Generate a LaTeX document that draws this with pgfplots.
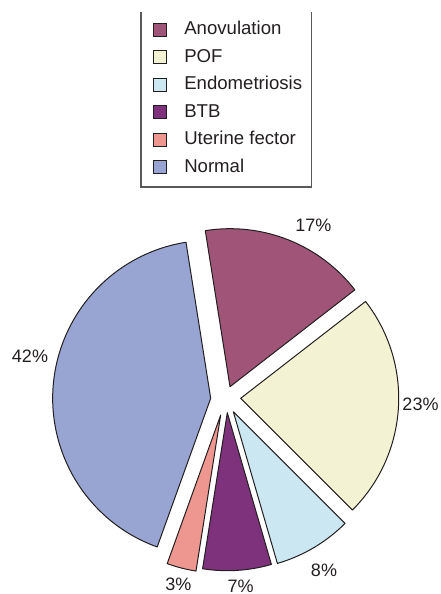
\documentclass[border=0pt]{standalone}
\usepackage{pgfplots}
\usepackage{pgfplotstable}
\pgfplotsset{compat=1.18}
\usepackage{fontspec}
\setmainfont{Liberation Sans}
\definecolor{cAno}{HTML}{A05578}
\definecolor{cPOF}{HTML}{F3F2D3}
\definecolor{cEndo}{HTML}{CBE7F1}
\definecolor{cBTB}{HTML}{7D327B}
\definecolor{cUte}{HTML}{EE9690}
\definecolor{cNor}{HTML}{98A5D2}
\definecolor{txt}{HTML}{231F20}
% name, percentage, apex of the exploded slice (x,y), label position (x,y), colour
\pgfplotstableread{
name pct ax ay lx ly col
Anovulation 17 230 207.3 313.3 369 cAno
POF 23 240.7 195.7 420.5 190 cPOF
Endometriosis 8 233.3 182.3 324 24 cEndo
BTB 7 227.3 181.3 240.7 8 cBTB
Uterine 3 220.7 179 178.3 10 cUte
Normal 42 210.7 195.7 30 238 cNor
}\piedata
\begin{document}
\begin{tikzpicture}
\begin{axis}[
  hide axis, x=0.5pt, y=0.5pt,
  xmin=0, xmax=440, ymin=0, ymax=594,
  enlargelimits=false, clip=false,
  legend cell align=left,
  legend image code/.code={\draw[#1] (0pt,-3.25pt) rectangle (6.5pt,3.25pt);},
  legend style={at={(axis description cs:0.347,0.966)}, anchor=north west,
    draw=none, fill=none, inner sep=0pt, row sep=4.75pt,
    font=\fontsize{9.3}{11}\selectfont, text=txt,
    nodes={inner sep=0pt, text height=7pt, text depth=2pt},
    /tikz/every odd column/.append style={column sep=8.6pt}},
]
\coordinate (bl) at (axis cs:0,0);
\coordinate (tr) at (axis cs:440,594);
\addlegendimage{fill=cAno, draw=txt, line width=0.5pt}
\addlegendimage{fill=cPOF, draw=txt, line width=0.5pt}
\addlegendimage{fill=cEndo, draw=txt, line width=0.5pt}
\addlegendimage{fill=cBTB, draw=txt, line width=0.5pt}
\addlegendimage{fill=cUte, draw=txt, line width=0.5pt}
\addlegendimage{fill=cNor, draw=txt, line width=0.5pt}
\legend{Anovulation, POF, Endometriosis, BTB, Uterine fector, Normal}
\draw[color=black!65, line width=0.65pt] (axis cs:141,582) -- (axis cs:141,407) -- (axis cs:311.7,407) -- (axis cs:311.7,582);
\xdef\curang{99}
\pgfplotsforeachungrouped \i in {0,...,5}{%
  \pgfplotstablegetelem{\i}{pct}\of\piedata \let\p\pgfplotsretval
  \pgfplotstablegetelem{\i}{ax}\of\piedata \let\ax\pgfplotsretval
  \pgfplotstablegetelem{\i}{ay}\of\piedata \let\ay\pgfplotsretval
  \pgfplotstablegetelem{\i}{lx}\of\piedata \let\lx\pgfplotsretval
  \pgfplotstablegetelem{\i}{ly}\of\piedata \let\ly\pgfplotsretval
  \pgfplotstablegetelem{\i}{col}\of\piedata \let\col\pgfplotsretval
  \pgfmathsetmacro\endang{\curang-3.6*\p}%
  \edef\temp{%
    \noexpand\filldraw[fill=\col, draw=txt, line width=0.5pt, line join=round]
      (axis cs:\ax,\ay) -- ++(\curang:79pt) arc[start angle=\curang, end angle=\endang, radius=79pt] -- cycle;
    \noexpand\node[text=txt, font=\noexpand\fontsize{9}{11}\noexpand\selectfont] at (axis cs:\lx,\ly) {\p\noexpand\%};
  }%
  \temp
  \xdef\curang{\endang}%
}
\end{axis}
\pgfresetboundingbox
\path[use as bounding box] (bl) rectangle (tr);
\end{tikzpicture}
\end{document}
